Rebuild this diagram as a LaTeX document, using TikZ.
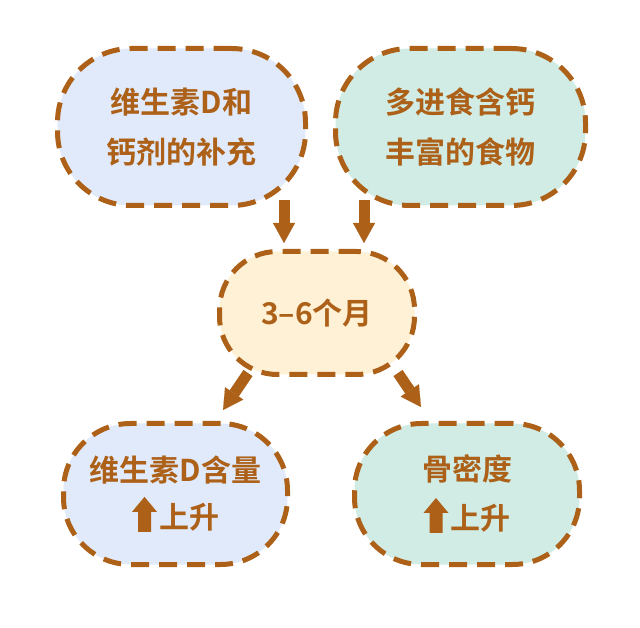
\documentclass[tikz,border=0pt]{standalone}
\usepackage{fontspec}
\setmainfont{Noto Sans CJK SC}[BoldFont={Noto Sans CJK SC Bold}]
\usetikzlibrary{arrows.meta,calc}
\definecolor{brownline}{RGB}{172,96,24}
\definecolor{bluefill}{RGB}{225,234,251}
\definecolor{mintfill}{RGB}{208,236,229}
\definecolor{creamfill}{RGB}{255,241,213}
\newcommand{\upicon}{\tikz[baseline=3pt, sharp corners, solid]\fill[brownline] (-6.5pt,0pt) -- (-6.5pt,20pt) -- (-12.5pt,20pt) -- (0pt,35pt) -- (12.5pt,20pt) -- (6.5pt,20pt) -- (6.5pt,0pt) -- cycle;}

\begin{document}
\begin{tikzpicture}[x=1pt, y=1pt, >={Triangle[width=22pt,length=20pt,line width=0.1pt]},
  box/.style={draw=brownline, line width=5pt, dash pattern=on 18pt off 10pt, align=center, text=brownline, font=\bfseries\fontsize{30pt}{50pt}\selectfont, inner sep=0pt, outer sep=0pt},
  blockarr/.style={->, draw=brownline, fill=brownline, line width=11pt}]
\fill[white] (0,0) rectangle (640,627);
\useasboundingbox (0,0) rectangle (640,627);
% top row
\node[box, fill=bluefill, minimum width=248pt, minimum height=157pt, rounded corners=74pt] (tl) at (181.5,500) {维生素D和\\钙剂的补充};
\node[box, fill=mintfill, minimum width=250pt, minimum height=157pt, rounded corners=74pt] (tr) at (460.5,500) {多进食含钙\\丰富的食物};
% middle
\node[box, fill=creamfill, minimum width=195pt, minimum height=123pt, rounded corners=58pt] (mid) at (317,314) {3–6个月};
% bottom row
\node[box, fill=bluefill, minimum width=224pt, minimum height=141pt, rounded corners=67pt, font=\bfseries\fontsize{30pt}{47pt}\selectfont] (bl) at (175.5,133) {维生素D含量\\\upicon\hspace{2pt}上升};
\node[box, fill=mintfill, minimum width=225pt, minimum height=141pt, rounded corners=67pt, font=\bfseries\fontsize{30pt}{49pt}\selectfont] (br) at (467,133) {骨密度\\\upicon\hspace{2pt}上升};
% arrows
\foreach \a/\ax/\ay/\b/\bx/\by in {tl.south/102.5/5.5/mid.north/-33/8.5, tr.south/-96.5/5.5/mid.north/47/8.5, mid.south/-69/1.5/bl.north/47.5/13.5, mid.south/81/1.5/br.north/-46/16.5}
  \draw[blockarr] ([shift={(\ax,\ay)}]\a) -- ([shift={(\bx,\by)}]\b);
\end{tikzpicture}
\end{document}
